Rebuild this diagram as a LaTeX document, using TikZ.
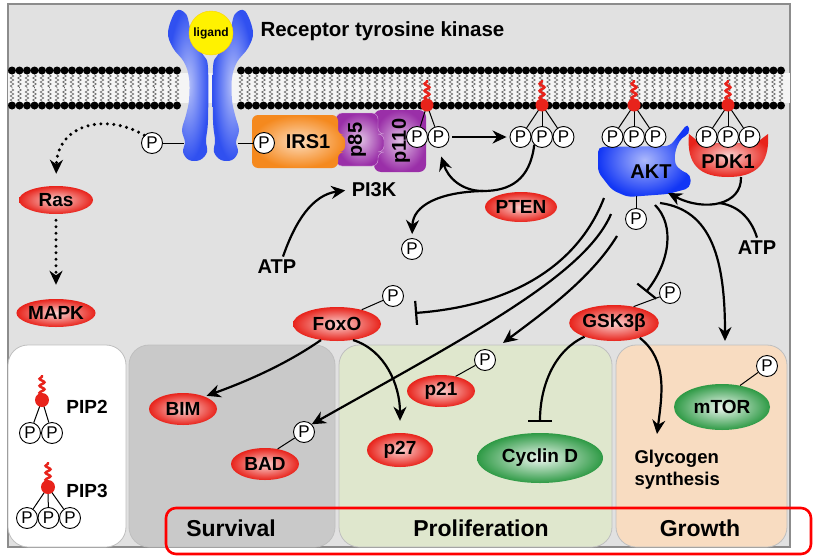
\documentclass[tikz,border=0pt]{standalone}
\usepackage{fontspec}
\setmainfont{Liberation Sans}
\usetikzlibrary{arrows.meta,shapes.geometric,decorations.pathmorphing,positioning}
\definecolor{bggray}{HTML}{E1E1E1}
\definecolor{survgray}{HTML}{C9C9C9}
\definecolor{prolgreen}{HTML}{DFE7CD}
\definecolor{growpeach}{HTML}{F8DCC1}
\definecolor{molred}{HTML}{E8231B}
\definecolor{molgreen}{HTML}{2E9A45}
\definecolor{rtkblue}{HTML}{3050F0}
\definecolor{aktblue}{HTML}{1236F5}
\definecolor{irsorange}{HTML}{F5891E}
\definecolor{pikpurple}{HTML}{9A2FA8}

\begin{document}
\begin{tikzpicture}[x=1pt,y=-1pt,>={Stealth[length=14pt,width=13pt]}]
  \tikzstyle{arr}=[->,line width=2.2pt]
  \tikzstyle{inh}=[-{Bar[width=24pt]},line width=2.2pt]
  \tikzstyle{dotarr}=[->,line width=3.4pt,line cap=round,dash pattern=on 0pt off 6.5pt]
  \tikzstyle{plink}=[line width=1pt]
  \tikzstyle{pcirc}=[circle,draw,line width=0.9pt,fill=white,inner sep=0pt,minimum size=21pt,font=\fontsize{17}{17}\selectfont]
  \tikzstyle{redmol}=[ellipse,inner sep=0pt,inner color=molred!20!white,outer color=molred,font=\bfseries\fontsize{19}{19}\selectfont]
  \tikzstyle{greenmol}=[ellipse,inner sep=0pt,inner color=molgreen!8!white,outer color=molgreen,font=\bfseries\fontsize{19}{19}\selectfont]
  \tikzstyle{lbl}=[font=\bfseries\fontsize{20}{20}\selectfont]
  \tikzstyle{paneltxt}=[font=\bfseries\fontsize{23}{23}\selectfont]
  \tikzstyle{panel}=[draw=black!25,line width=0.8pt,rounded corners=20]
  \tikzstyle{lipidtail}=[black!60,line width=0.6pt,decorate,decoration={zigzag,segment length=4pt,amplitude=1.8pt}]
  \tikzstyle{piptail}=[molred,line width=2.4pt,decorate,decoration={snake,segment length=7pt,amplitude=2.5pt}]

  \useasboundingbox (0,0) rectangle (814,557);

  % frame and panels
  \draw[black!45,line width=1.2pt,fill=bggray] (8,4) rectangle (790,547);
  \draw[panel,fill=white] (8,345) rectangle (126,547);
  \draw[panel,fill=survgray] (129,345) rectangle (335,547);
  \draw[panel,fill=prolgreen] (339,345) rectangle (612,547);
  \draw[panel,fill=growpeach] (616,345) rectangle (787,547);

  % membrane
  \fill[black!4] (8,73) rectangle (790,103);
  \foreach \x in {12,19.5,...,181} {
    \draw[lipidtail] (\x,75) -- (\x,88);
    \draw[lipidtail] (\x,101) -- (\x,89);
    \fill (\x,70.5) circle (4);
    \fill (\x,105.5) circle (4);
  }
  \foreach \x in {241,248.5,...,788} {
    \draw[lipidtail] (\x,75) -- (\x,88);
    \draw[lipidtail] (\x,101) -- (\x,89);
    \fill (\x,70.5) circle (4);
    \fill (\x,105.5) circle (4);
  }

  % receptor
  \shade[inner color=rtkblue!35!white,outer color=rtkblue] plot[smooth cycle,tension=0.6] coordinates {(176,11) (186,14) (190,28) (195,44) (204,56) (208,68) (208,120) (206,140) (207,152) (200,160) (189,160) (183,152) (185,142) (182,130) (186,115) (189,100) (189,78) (184,62) (173,48) (168,32)};
  \shade[inner color=rtkblue!35!white,outer color=rtkblue] plot[smooth cycle,tension=0.6] coordinates {(245,11) (235,14) (231,28) (226,44) (217,56) (213,68) (213,120) (215,140) (214,152) (221,160) (232,160) (238,152) (236,142) (239,130) (235,115) (232,100) (232,78) (237,62) (248,48) (253,32)};
  \node[circle,fill=yellow,draw=yellow!70!orange,minimum size=44pt,inner sep=0pt,font=\bfseries\fontsize{12}{12}\selectfont] (lig) at (211,33) {ligand};
  \node[lbl,anchor=west,font=\bfseries\fontsize{20.5}{20.5}\selectfont] (rtk) at (257,31) {Receptor tyrosine kinase};

  % IRS1 and PI3K
  \shade[inner color=pikpurple!30!white,outer color=pikpurple,rounded corners=7] (374,110) -- (426,110) -- (426,172) -- (374,172) -- cycle;
  \shade[inner color=pikpurple!30!white,outer color=pikpurple,draw=white!60!pikpurple,rounded corners=6] (336,113) -- (378,113) -- (378,134) -- (384,134) -- (384,152) -- (378,152) -- (378,166) -- (336,166) -- cycle;
  \shade[inner color=irsorange!30!white,outer color=irsorange,rounded corners=6] (252,115) -- (338,115) -- (338,135) -- (345,135) -- (345,152) -- (338,152) -- (338,168) -- (252,168) -- cycle;
  \node[lbl] (irs) at (308,142) {IRS1};
  \node[lbl,rotate=90] (p85) at (357,140) {p85};
  \node[lbl,rotate=90] (p110) at (401,141) {p110};
  \node[lbl] (pik) at (374,190) {PI3K};

  % AKT and PDK1
  \shade[inner color=aktblue!35!white,outer color=aktblue,rounded corners=5] (598,147) -- (670,146) -- (688,123) -- (690,134) .. controls (676,140) and (672,160) .. (680,170) -- (691,175) -- (690,188) -- (668,194) -- (628,197) -- (612,190) -- (598,172) -- cycle;
  \shade[inner color=molred!20!white,outer color=molred] (689,134) -- (700,143) -- (756,143) -- (768,134) .. controls (770,165) and (755,177) .. (728,177) .. controls (700,177) and (686,165) .. (689,134) -- cycle;
  \node[font=\bfseries\fontsize{20}{20}\selectfont] (akt) at (651,172) {AKT};
  \node[lbl] (pdk) at (728,162) {PDK1};

  % phosphoinositides in the membrane
  \node[pcirc] (pip2a) at (417,137) {P};
  \node[pcirc] (pip2b) at (438.5,137) {P};
  \draw[plink] (427,105) -- (pip2a);
  \draw[plink] (427,105) -- (pip2b);
  \foreach \hx/\g in {542/a,634/b,728/c} {
    \foreach \i/\dx in {1/-21.5,2/0,3/21.5} {
      \node[pcirc] (pip3\g\i) at (\hx+\dx,137) {P};
      \draw[plink] (\hx,105) -- (pip3\g\i);
    }
  }
  \foreach \hx in {427,542,634,728} {
    \draw[piptail] (\hx,100) -- (\hx,80);
    \fill[molred] (\hx,105) circle (6.5);
  }

  % receptor phosphates
  \node[pcirc] (pRas) at (152,143) {P};
  \node[pcirc] (pIRS) at (264,143) {P};
  \draw[plink] (pRas) -- (184,143);
  \draw[plink] (238,143) -- (pIRS);

  % molecules
  \node[redmol,minimum width=74pt,minimum height=28pt] (ras) at (56,200) {Ras};
  \node[redmol,minimum width=76pt,minimum height=28pt] (mapk) at (56,313) {MAPK};
  \node[redmol,minimum width=72pt,minimum height=30pt] (pten) at (521,207) {PTEN};
  \node[redmol,minimum width=88pt,minimum height=34pt] (foxo) at (337,324) {FoxO};
  \node[redmol,minimum width=88pt,minimum height=36pt] (gsk) at (614,323) {GSK3β};
  \node[redmol,minimum width=68pt,minimum height=32pt] (bim) at (183,409) {BIM};
  \node[redmol,minimum width=68pt,minimum height=32pt] (bad) at (265,464) {BAD};
  \node[redmol,minimum width=66pt,minimum height=34pt] (p27) at (400,450) {p27};
  \node[redmol,minimum width=68pt,minimum height=32pt] (p21) at (441,391) {p21};
  \node[greenmol,minimum width=126pt,minimum height=50pt] (cycd) at (540,458) {Cyclin D};
  \node[greenmol,minimum width=96pt,minimum height=46pt] (mtor) at (722,407) {mTOR};
  \node[lbl,anchor=west,align=left,font=\bfseries\fontsize{18.5}{22}\selectfont] (glyc) at (631,470) {Glycogen\\synthesis};
  \node[lbl] (atpL) at (277,267) {ATP};
  \node[lbl] (atpR) at (757,248) {ATP};

  \node[pcirc] (pAkt) at (636,219) {P};
  \node[pcirc] (freeP) at (412,249) {P};
  \node[pcirc] (pFoxo) at (393,296) {P};
  \node[pcirc] (pGsk) at (670,293) {P};
  \node[pcirc] (pBad) at (304,432) {P};
  \node[pcirc] (pP21) at (485,360) {P};
  \node[pcirc] (pMtor) at (767,366) {P};
  \draw[plink] (636,196) -- (pAkt);
  \draw[plink] (foxo.30) -- (pFoxo);
  \draw[plink] (gsk.40) -- (pGsk);
  \draw[plink] (bad.50) -- (pBad);
  \draw[plink] (p21.45) -- (pP21);
  \draw[plink] (mtor.50) -- (pMtor);

  % legend
  \node[pcirc] (l2a) at (30,433) {P};
  \node[pcirc] (l2b) at (52,433) {P};
  \draw[plink] (42,400) -- (l2a);
  \draw[plink] (42,400) -- (l2b);
  \node[pcirc] (l3a) at (27,518) {P};
  \node[pcirc] (l3b) at (48.5,518) {P};
  \node[pcirc] (l3c) at (70,518) {P};
  \draw[plink] (48,487) -- (l3a);
  \draw[plink] (48,487) -- (l3b);
  \draw[plink] (48,487) -- (l3c);
  \draw[piptail] (42,395) -- (42,375);
  \fill[molred] (42,400) circle (7);
  \draw[piptail] (48,482) -- (48,462);
  \fill[molred] (48,487) circle (7);
  \node[lbl,font=\bfseries\fontsize{19}{19}\selectfont] (pip2) at (87,407) {PIP2};
  \node[lbl,font=\bfseries\fontsize{19}{19}\selectfont] (pip3) at (87,491) {PIP3};

  % panel titles
  \node[paneltxt] (surv) at (231,528) {Survival};
  \node[paneltxt] (prol) at (481,528) {Proliferation};
  \node[paneltxt] (grow) at (700,528) {Growth};
  \draw[red,line width=2.6pt,rounded corners=10] (166,508) rectangle (811,554);

  % free ends
  \coordinate (ptj) at (483,191);
  \coordinate (a1) at (604,198);
  \coordinate (a2) at (611,214);
  \coordinate (a3) at (617,236);
  \coordinate (a4) at (655,205);
  \coordinate (a5) at (660,203);
  \coordinate (pdkb) at (741,177);
  \coordinate (aktin) at (668,193);
  \coordinate (atpj) at (719,203);
  \coordinate (p21tip) at (503,343);
  \coordinate (gsktip) at (646,292);
  \coordinate (mtortip) at (725,341);
  \coordinate (glyctip) at (657,434);

  % connectors
  \draw[dotarr] (pRas.north west) .. controls (105,112) and (57,125) .. (ras.north) [shorten >=12pt];
  \draw[dotarr,shorten <=6pt,shorten >=14pt] (ras.south) -- (mapk.north);
  \draw[arr,shorten <=3pt,shorten >=3pt] (pip2b) -- (pip3a1);
  \draw[line width=2.2pt] (pip3a2.south west) .. controls (530,180) and (510,191) .. (ptj);
  \draw[arr,shorten >=9pt] (ptj) .. controls (462,191) and (448,178) .. (pip2b.south);
  \draw[arr,shorten >=4pt] (ptj) .. controls (440,192) and (413,205) .. (freeP.north);
  \draw[arr,shorten >=3pt] (atpL.60) .. controls (295,222) and (312,195) .. (pik.west);
  \draw[arr] (pdkb) .. controls (742,205) and (705,212) .. (aktin);
  \draw[line width=2.2pt] (atpR.north) .. controls (750,215) and (735,205) .. (atpj);
  \draw[inh] (a1) .. controls (580,260) and (520,305) .. (415,313);
  \draw[arr] (a2) .. controls (585,275) and (470,335) .. (pBad.north east);
  \draw[arr] (a3) .. controls (590,280) and (540,315) .. (p21tip);
  \draw[inh] (a4) .. controls (675,225) and (670,262) .. (gsktip);
  \draw[arr] (a5) .. controls (712,210) and (725,260) .. (mtortip);
  \draw[arr,shorten >=2pt] (foxo.225) .. controls (285,365) and (245,382) .. (bim.30);
  \draw[arr,shorten >=12pt] (foxo.315) .. controls (385,350) and (400,385) .. (p27.north);
  \draw[inh,shorten >=11pt] (gsk.205) .. controls (555,350) and (540,385) .. (cycd.north);
  \draw[arr] (gsk.330) .. controls (668,360) and (662,395) .. (glyctip);
\end{tikzpicture}
\end{document}
